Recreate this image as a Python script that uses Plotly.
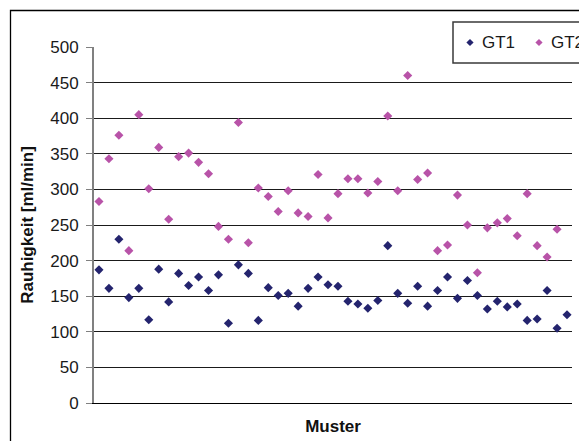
import plotly.graph_objects as go

# Sample index (Muster) and measured roughness values [ml/min]
muster = list(range(1, 49))

gt1 = [187, 161, 230, 148, 161, 117, 188, 142, 182, 165, 177, 158, 180, 112, 194, 182,
       116, 162, 151, 154, 136, 161, 177, 166, 164, 143, 139, 133, 144, 221, 154, 140,
       164, 136, 158, 177, 147, 172, 151, 132, 143, 135, 139, 116, 118, 158, 105, 124]

gt2 = [283, 343, 376, 214, 405, 301, 359, 258, 346, 351, 338, 322, 248, 230, 394, 225,
       302, 290, 269, 298, 267, 262, 321, 260, 294, 315, 315, 295, 311, 403, 298, 460,
       314, 323, 214, 222, 292, 250, 183, 246, 253, 259, 235, 294, 221, 205, 244, None]

y_ticks = [0, 50, 100, 150, 200, 250, 300, 350, 400, 450, 500]
series_names = ["GT1", "GT2"]

FONT = "Liberation Sans, Arial, sans-serif"
C_GT1 = "#24246E"
C_GT2 = "#B853A8"

fig = go.Figure()
for name, vals, col in zip(series_names, [gt1, gt2], [C_GT1, C_GT2]):
    fig.add_trace(go.Scatter(
        x=muster, y=vals, mode="markers", name=name, showlegend=False,
        marker=dict(symbol="diamond", size=7, color=col, line=dict(width=0)),
    ))

# plot area: x 94..572 px, y 47..403 px
L, R, T, B = 94, 7, 47, 38
W, H = 579, 441
pw, ph = W - L - R, H - T - B

def px_x(x):
    return (x - L) / pw

def px_y(y):
    return (H - B - y) / ph

# outer chart-area frame
fig.add_shape(type="rect", xref="paper", yref="paper",
              x0=px_x(10.5), x1=px_x(600), y0=px_y(460), y1=px_y(10.5),
              line=dict(color="#000000", width=1.3), fillcolor="rgba(0,0,0,0)",
              layer="below")

# legend box with diamond keys and labels
fig.add_shape(type="rect", xref="paper", yref="paper",
              x0=px_x(453), x1=px_x(600), y0=px_y(63), y1=px_y(22),
              line=dict(color="#3a3a3a", width=1.5), fillcolor="white",
              layer="above")

def diamond_path(cx, cy, r):
    pts = [(cx, cy - r), (cx + r, cy), (cx, cy + r), (cx - r, cy)]
    p = "M " + " L ".join(f"{px_x(a):.5f},{px_y(b):.5f}" for a, b in pts) + " Z"
    return p

key_y = 42.5
for name, col, kx in zip(series_names, [C_GT1, C_GT2], [470, 539]):
    fig.add_shape(type="path", xref="paper", yref="paper",
                  path=diamond_path(kx, key_y, 3.6),
                  line=dict(width=0), fillcolor=col, layer="above")
    fig.add_annotation(x=px_x(kx + 10), y=px_y(key_y), xref="paper", yref="paper",
                       text=name, showarrow=False, xanchor="left", yanchor="middle",
                       font=dict(family=FONT, size=17, color="#1a1a1a"))

fig.update_layout(
    width=W, height=H,
    margin=dict(l=L, r=R, t=T, b=B, autoexpand=False),
    paper_bgcolor="white", plot_bgcolor="white",
    font=dict(family=FONT, size=17, color="#1a1a1a"),
    showlegend=False,
    xaxis=dict(
        range=[0.5, 48.5], showticklabels=False, ticks="", showgrid=False,
        zeroline=False, showline=True, linecolor="#000000", linewidth=1,
        title=dict(text="Muster", standoff=17,
                   font=dict(family=FONT, size=17, weight="bold", color="#111111")),
    ),
    yaxis=dict(
        range=[0, 500], tickvals=y_ticks, ticks="outside", ticklen=6,
        tickcolor="#808080", tickwidth=1.2, showgrid=True, gridcolor="#1a1a1a",
        gridwidth=1, zeroline=False, showline=True, linecolor="#808080", linewidth=2,
        ticklabelstandoff=4,
        title=dict(text="Rauhigkeit [ml/min]", standoff=12,
                   font=dict(family=FONT, size=17, weight="bold", color="#111111")),
    ),
)

fig.write_html("out.html")
